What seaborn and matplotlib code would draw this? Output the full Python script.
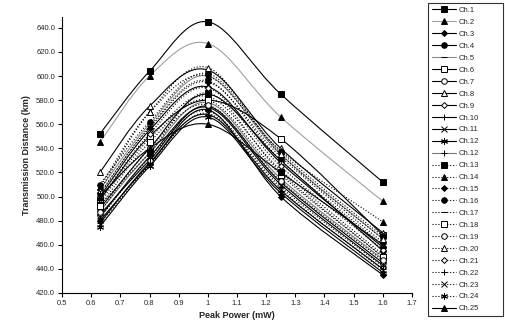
import matplotlib
matplotlib.use("Agg")
import matplotlib.pyplot as plt
from matplotlib.path import Path
from matplotlib.patches import PathPatch
from matplotlib.lines import Line2D
import seaborn as sns
import pandas as pd

peak_power = [0.63, 0.8, 1.0, 1.25, 1.6]

channels = ["Ch.1", "Ch.2", "Ch.3", "Ch.4", "Ch.5", "Ch.6", "Ch.7", "Ch.8", "Ch.9",
            "Ch.10", "Ch.11", "Ch.12", "Ch.12", "Ch.13", "Ch.14", "Ch.15", "Ch.16",
            "Ch.17", "Ch.18", "Ch.19", "Ch.20", "Ch.21", "Ch.22", "Ch.23", "Ch.24", "Ch.25"]

ch1 = [552, 604, 645, 585, 512]
ch2 = [545, 600, 627, 566, 496]
ch3 = [480, 527, 572, 500, 435]
ch4 = [490, 540, 585, 530, 455]
ch5 = [506, 560, 600, 535, 465]
ch6 = [497, 550, 580, 548, 468]
ch7 = [485, 530, 575, 512, 445]
ch8 = [520, 575, 605, 540, 470]
ch9 = [500, 555, 591, 528, 458]
ch10 = [478, 528, 568, 505, 440]
ch11 = [483, 533, 574, 510, 443]
ch12 = [475, 525, 566, 503, 437]
ch12b = [488, 536, 578, 515, 448]
ch13 = [493, 536, 586, 520, 450]
ch14 = [508, 570, 600, 538, 479]
ch15 = [503, 557, 595, 533, 462]
ch16 = [510, 562, 602, 537, 467]
ch17 = [495, 548, 583, 522, 452]
ch18 = [492, 545, 580, 518, 450]
ch19 = [487, 540, 576, 513, 447]
ch20 = [505, 570, 607, 535, 465]
ch21 = [498, 552, 590, 525, 456]
ch22 = [482, 532, 571, 508, 442]
ch23 = [477, 526, 569, 506, 439]
ch24 = [502, 558, 596, 530, 460]
ch25 = [500, 540, 560, 520, 460]

series = [ch1, ch2, ch3, ch4, ch5, ch6, ch7, ch8, ch9, ch10, ch11, ch12, ch12b,
          ch13, ch14, ch15, ch16, ch17, ch18, ch19, ch20, ch21, ch22, ch23, ch24, ch25]

x_ticks = [0.5, 0.6, 0.7, 0.8, 0.9, 1.0, 1.1, 1.2, 1.3, 1.4, 1.5, 1.6, 1.7]
x_ticklabels = ["0.5", "0.6", "0.7", "0.8", "0.9", "1", "1.1", "1.2", "1.3", "1.4", "1.5", "1.6", "1.7"]
y_ticks = [420, 440, 460, 480, 500, 520, 540, 560, 580, 600, 620, 640]

ASTER = (6, 2, 0)
# (marker, filled, linestyle, line colour, marker size)
styles = [
    ("s", True, "-", "black", 4),
    ("^", True, "-", "#a0a0a0", 5),
    ("D", True, "-", "black", 3),
    ("o", True, "-", "black", 4),
    ("_", True, "-", "#8a8a8a", 5),
    ("s", False, "-", "black", 4),
    ("o", False, "-", "black", 4),
    ("^", False, "-", "black", 5),
    ("D", False, "-", "black", 3),
    ("+", True, "-", "black", 5),
    ("x", True, "-", "black", 4),
    (ASTER, True, "-", "black", 5),
    ("+", True, "-", "#7a7a7a", 5),
    ("s", True, ":", "black", 4),
    ("^", True, ":", "black", 5),
    ("D", True, ":", "black", 3),
    ("o", True, ":", "black", 4),
    ("_", True, ":", "black", 5),
    ("s", False, ":", "black", 4),
    ("o", False, ":", "black", 4),
    ("^", False, ":", "black", 5),
    ("D", False, ":", "black", 3),
    ("+", True, ":", "black", 5),
    ("x", True, ":", "black", 4),
    (ASTER, True, ":", "black", 5),
    ("^", True, "-", "black", 5),
]


def smooth_path(xs, ys):
    """Excel-style smoothed line: cubic Bezier segments through the data points."""
    pts = list(zip(xs, ys))
    n = len(pts)
    verts = [pts[0]]
    codes = [Path.MOVETO]
    for i in range(n - 1):
        p0 = pts[i - 1] if i > 0 else pts[i]
        p1 = pts[i]
        p2 = pts[i + 1]
        p3 = pts[i + 2] if i + 2 < n else pts[i + 1]
        c1 = (p1[0] + (p2[0] - p0[0]) / 6, p1[1] + (p2[1] - p0[1]) / 6)
        c2 = (p2[0] - (p3[0] - p1[0]) / 6, p2[1] - (p3[1] - p1[1]) / 6)
        verts += [c1, c2, p2]
        codes += [Path.CURVE4] * 3
    return Path(verts, codes)


sns.set_theme(style="white")
plt.rcParams["font.family"] = ["Liberation Sans", "DejaVu Sans"]

fig = plt.figure(figsize=(5.06, 3.29), dpi=100)
ax = fig.add_axes([62 / 506, 36 / 329, (412 - 62) / 506, (312 - 36) / 329])

handles = []
for name, vals, (mk, filled, ls, col, ms) in zip(channels, series, styles):
    df = pd.DataFrame({"Peak Power": peak_power, "Distance": vals})
    fc = "black" if filled else "white"
    ax.add_patch(PathPatch(smooth_path(df["Peak Power"], df["Distance"]),
                           facecolor="none", edgecolor=col, linestyle=ls,
                           linewidth=0.8, transform=ax.transData, zorder=2))
    sns.lineplot(data=df, x="Peak Power", y="Distance", ax=ax, linestyle="none",
                 marker=mk, markersize=ms, markerfacecolor=fc,
                 markeredgecolor="black", markeredgewidth=0.7,
                 color="black", sort=False, legend=False, zorder=3)
    handles.append(Line2D([], [], color=col, linestyle=ls, linewidth=0.8,
                          marker=mk, markersize=ms, markerfacecolor=fc,
                          markeredgecolor="black", markeredgewidth=0.7, label=name))

ax.set_xlim(0.5, 1.7)
ax.set_ylim(420, 649)
ax.set_xticks(x_ticks)
ax.set_xticklabels(x_ticklabels)
ax.set_yticks(y_ticks)
ax.set_yticklabels([f"{v:.1f}" for v in y_ticks])
ax.tick_params(axis="both", labelsize=5.5, length=3, width=0.8, direction="out",
               color="black", pad=2, bottom=True, left=True)
for s in ["top", "right"]:
    ax.spines[s].set_visible(False)
for s in ["left", "bottom"]:
    ax.spines[s].set_color("black")
    ax.spines[s].set_linewidth(0.8)

ax.set_xlabel("Peak Power (mW)", fontsize=6.5, fontweight="bold", labelpad=3)
ax.set_ylabel("Transmission Distance (km)", fontsize=6.5, fontweight="bold", labelpad=4)

leg = ax.legend(handles=handles, loc="upper left",
                bbox_to_anchor=(428 / 506, 3 / 329, 75 / 506, 323 / 329),
                bbox_transform=fig.transFigure, mode="expand", ncol=1,
                fontsize=5.5, frameon=True, fancybox=False, handlelength=3.2,
                handletextpad=0.3, borderaxespad=0, borderpad=0.5, labelspacing=0.6)
leg.get_frame().set_edgecolor("black")
leg.get_frame().set_linewidth(0.8)

fig.savefig("out.png", dpi=100)
